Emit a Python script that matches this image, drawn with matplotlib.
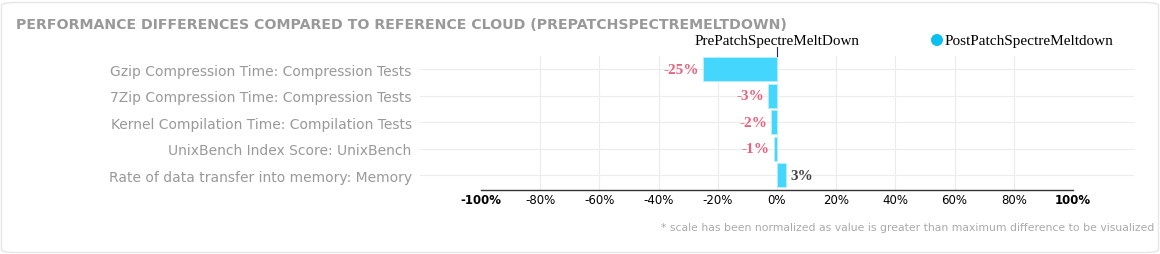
import matplotlib
matplotlib.use("Agg")
import matplotlib.pyplot as plt
from matplotlib.patches import FancyBboxPatch, Ellipse
from matplotlib.lines import Line2D

categories = [
    "Gzip Compression Time: Compression Tests",
    "7Zip Compression Time: Compression Tests",
    "Kernel Compilation Time: Compilation Tests",
    "UnixBench Index Score: UnixBench",
    "Rate of data transfer into memory: Memory",
]
values = [-25, -3, -2, -1, 3]
value_labels = ["-25%", "-3%", "-2%", "-1%", "3%"]
ticks = [-100, -80, -60, -40, -20, 0, 20, 40, 60, 80, 100]
tick_labels = ["-100%", "-80%", "-60%", "-40%", "-20%", "0%", "20%", "40%", "60%", "80%", "100%"]
reference_name = "PrePatchSpectreMeltDown"
series_name = "PostPatchSpectreMeltdown"
title = "PERFORMANCE DIFFERENCES COMPARED TO REFERENCE CLOUD (PREPATCHSPECTREMELTDOWN)"
footnote = "* scale has been normalized as value is greater than maximum difference to be visualized"

W, H = 1160, 255
fig = plt.figure(figsize=(W / 100, H / 100), dpi=100)

# card background
card = FancyBboxPatch((1.5 / W, 1.5 / H), (W - 3) / W, (H - 5) / H,
                      boxstyle="round,pad=0,rounding_size=0.012",
                      transform=fig.transFigure, facecolor="white",
                      edgecolor="#e6e6e6", linewidth=1.0, zorder=-10)
fig.patches.append(card)

ax = fig.add_axes([420 / W, 1 - 191 / H, 714 / W, 134 / H])
ax.set_facecolor("none")
ax.set_zorder(1)

bar_color = "#44d6fc"
y = list(range(len(categories)))
ax.barh(y, values, height=0.9, color=bar_color, edgecolor="#b8f0fd", linewidth=0.6, zorder=3)

ax.set_xlim(-120.6, 120.6)
ax.set_ylim(len(categories) - 0.45, -0.5)

# grid
for t in ticks[1:-1]:
    ax.axvline(t, color="#ececec", linewidth=0.8, zorder=1)
for yy in y:
    ax.axhline(yy, color="#ececec", linewidth=0.8, zorder=1)

for s in ["top", "right", "left"]:
    ax.spines[s].set_visible(False)
ax.spines["bottom"].set_bounds(-100, 100)
ax.spines["bottom"].set_color("#333333")
ax.spines["bottom"].set_linewidth(1.0)

ax.set_xticks(ticks)
ax.set_xticklabels(tick_labels)
ax.tick_params(axis="x", length=0, pad=2.5)
for lbl, txt in zip(ax.get_xticklabels(), tick_labels):
    lbl.set_fontfamily("DejaVu Sans")
    lbl.set_fontsize(8.5)
    lbl.set_color("black")
    if txt in ("-100%", "100%"):
        lbl.set_fontweight("bold")

ax.set_yticks(y)
ax.set_yticklabels(categories)
ax.tick_params(axis="y", length=0, pad=6)
for lbl in ax.get_yticklabels():
    lbl.set_fontfamily("DejaVu Sans")
    lbl.set_fontsize(10)
    lbl.set_color("#999999")

# value labels
for yy, v, s in zip(y, values, value_labels):
    if v < 0:
        ax.annotate(s, (v, yy), xytext=(-3, 0), textcoords="offset points",
                    ha="right", va="center", fontfamily="Liberation Serif",
                    fontweight="bold", fontsize=11, color="#e5637f", zorder=4)
    else:
        ax.annotate(s, (v, yy), xytext=(3, 0), textcoords="offset points",
                    ha="left", va="center", fontfamily="Liberation Serif",
                    fontweight="bold", fontsize=11, color="#444444", zorder=4)

# reference marker at zero
zero_x = ax.transData.transform((0, 0))[0] / W
fig.add_artist(Line2D([zero_x, zero_x], [1 - 48 / H, 1 - 57 / H], color="#1a2a5a",
                      linewidth=0.8, transform=fig.transFigure))
fig.text(zero_x, 1 - 42 / H, reference_name, ha="center", va="center",
         fontfamily="Liberation Serif", fontsize=10.9, color="black")

# legend
fig.add_artist(Ellipse((937 / W, 1 - 41 / H), 12 / W, 12 / H, transform=fig.transFigure,
                       facecolor="#0bbff0", edgecolor="none"))
fig.text(945 / W, 1 - 41 / H, series_name, ha="left", va="center",
         fontfamily="Liberation Serif", fontsize=11, color="black")

# title
fig.text(16 / W, 1 - 25 / H, title, ha="left", va="center",
         fontfamily="DejaVu Sans", fontweight="bold", fontsize=10.2, color="#999999")

# footnote
fig.text(1154 / W, 1 - 228 / H, footnote, ha="right", va="center",
         fontfamily="DejaVu Sans", fontsize=7.8, color="#aaaaaa")

fig.savefig("out.png", dpi=100)
